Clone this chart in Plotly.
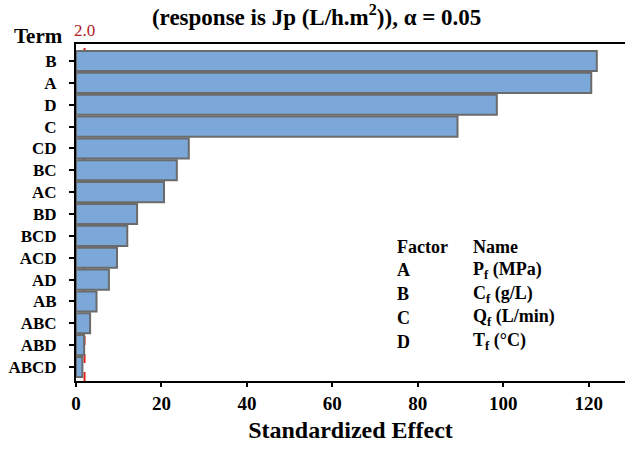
import plotly.graph_objects as go

terms = ["B", "A", "D", "C", "CD", "BC", "AC", "BD", "BCD", "ACD", "AD", "AB", "ABC", "ABD", "ABCD"]
effects = [121.9, 120.6, 98.5, 89.3, 26.4, 23.6, 20.6, 14.3, 12.0, 9.6, 7.7, 4.8, 3.3, 1.9, 1.5]
critical_value = 2.0
x_ticks = [0, 20, 40, 60, 80, 100, 120]

factor_codes = ["A", "B", "C", "D"]
factor_names = ["P<sub>f</sub> (MPa)", "C<sub>f</sub> (g/L)", "Q<sub>f</sub> (L/min)", "T<sub>f</sub> (°C)"]

SERIF = "Liberation Serif"

fig = go.Figure()
fig.add_trace(go.Bar(
    x=effects, y=terms, orientation="h",
    marker=dict(color="#7BA7D9", line=dict(color="#6b6b6b", width=2)),
    width=0.92,
))

# reference line for the critical t value, drawn behind the bars
fig.add_shape(type="line", xref="x", yref="paper", layer="below",
              x0=critical_value, x1=critical_value, y0=0, y1=1,
              line=dict(color="#e8221c", width=2, dash="dash"))
fig.add_annotation(x=critical_value, y=1, xref="x", yref="paper",
                   text=f"{critical_value:.1f}", showarrow=False,
                   xanchor="center", yanchor="bottom", yshift=2,
                   font=dict(family=SERIF, size=17, color="#b0201c"))

fig.add_annotation(x=-0.0674, y=1.024, xref="paper", yref="paper", text="Term",
                   showarrow=False, yanchor="middle", xanchor="center",
                   font=dict(family=SERIF, size=21, color="black", weight="bold"))

# factor legend table
tab_font = dict(family=SERIF, size=18, color="black", weight="bold")
col_x = [0.581, 0.7195]
fig.add_annotation(x=col_x[0], y=0.398, xref="paper", yref="paper", text="Factor",
                   showarrow=False, xanchor="left", yanchor="middle", font=tab_font)
fig.add_annotation(x=col_x[1], y=0.398, xref="paper", yref="paper", text="Name",
                   showarrow=False, xanchor="left", yanchor="middle", font=tab_font)
row_y = [0.329, 0.258, 0.187, 0.116]
for code, name, yy in zip(factor_codes, factor_names, row_y):
    fig.add_annotation(x=col_x[0], y=yy, xref="paper", yref="paper", text=code,
                       showarrow=False, xanchor="left", yanchor="middle", font=tab_font)
    fig.add_annotation(x=col_x[1], y=yy, xref="paper", yref="paper", text=name,
                       showarrow=False, xanchor="left", yanchor="middle", font=tab_font)

fig.update_layout(
    width=627, height=450,
    margin=dict(l=76, r=2, t=44, b=69),
    paper_bgcolor="white", plot_bgcolor="white",
    showlegend=False,
    font=dict(family=SERIF, color="black"),
    title=dict(text="(response is Jp (L/h.m<sup>2</sup>)), α = 0.05",
               x=0.505, xref="container", xanchor="center",
               y=0.962, yref="container", yanchor="middle",
               font=dict(family=SERIF, size=23, color="black", weight="bold")),
    bargap=0.08,
)
fig.update_xaxes(
    range=[0, 128.5], tickvals=x_ticks, ticks="outside", ticklen=4, tickwidth=2,
    tickcolor="black", showline=True, linecolor="black", linewidth=2,
    mirror=True, showgrid=False, zeroline=False,
    tickfont=dict(family=SERIF, size=19, color="black", weight="bold"),
    title=dict(text="Standardized Effect", standoff=8,
               font=dict(family=SERIF, size=24, color="black", weight="bold")),
)
fig.update_yaxes(
    categoryorder="array", categoryarray=terms,
    range=[len(terms) - 0.36, -0.78],
    ticks="outside", ticklen=5, tickwidth=2, tickcolor="black",
    ticklabelstandoff=9,
    showline=True, linecolor="black", linewidth=2, showgrid=False,
    tickfont=dict(family=SERIF, size=17, color="black", weight="bold"),
)

fig.write_html("out.html")
